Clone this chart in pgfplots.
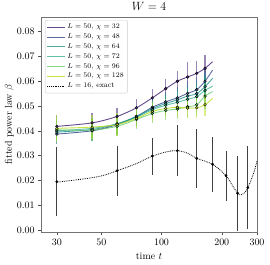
\documentclass[border=0pt]{standalone}
\usepackage{pgfplots}
\pgfplotsset{compat=1.18}
\usepackage{pgfplotstable}

\definecolor{c32}{HTML}{482878}
\definecolor{c48}{HTML}{3B528B}
\definecolor{c64}{HTML}{21918C}
\definecolor{c72}{HTML}{22A884}
\definecolor{c96}{HTML}{5EC962}
\definecolor{c128}{HTML}{BDDF26}

\pgfplotstableread{
t y e
30 0.0418 0.0045
45 0.0432 0.0040
60 0.0458 0.0035
75 0.0493 0.0035
90 0.0533 0.0035
105 0.0570 0.0040
120 0.0600 0.0042
135 0.0617 0.0060
150 0.0632 0.0050
165 0.0652 0.0055
180 0.0679 0
}\chiA
\pgfplotstableread{
t y e
30 0.0387 0.0040
45 0.0400 0.0040
60 0.0425 0.0040
75 0.0458 0.0035
90 0.0495 0.0035
105 0.0517 0.0040
120 0.0533 0.0045
135 0.0551 0.0050
150 0.0566 0.0050
165 0.0600 0.0050
180 0.0645 0
}\chiB
\pgfplotstableread{
t y e
30 0.0395 0.0045
45 0.0405 0.0040
60 0.0428 0.0040
75 0.0458 0.0035
90 0.0490 0.0035
105 0.0510 0.0040
120 0.0525 0.0045
135 0.0540 0.0045
150 0.0550 0.0045
165 0.0578 0.0050
180 0.0612 0
}\chiC
\pgfplotstableread{
t y e
30 0.0400 0.0045
45 0.0410 0.0040
60 0.0428 0.0040
75 0.0455 0.0035
90 0.0485 0.0035
105 0.0503 0.0040
120 0.0515 0.0040
135 0.0527 0.0045
150 0.0538 0.0045
165 0.0563 0.0050
180 0.0580 0
}\chiD
\pgfplotstableread{
t y e
30 0.0404 0.0050
45 0.0403 0.0045
60 0.0418 0.0040
75 0.0446 0.0040
90 0.0470 0.0040
105 0.0482 0.0040
120 0.0488 0.0040
135 0.0497 0.0045
150 0.0505 0.0045
165 0.0540 0.0050
180 0.0558 0
}\chiE
\pgfplotstableread{
t y e
30 0.0410 0.0054
45 0.0415 0.0050
60 0.0425 0.0045
75 0.0450 0.0040
90 0.0478 0.0040
105 0.0490 0.0040
120 0.0495 0.0040
135 0.0492 0.0040
150 0.0493 0.0040
165 0.0505 0.0045
180 0.0531 0
}\chiF
\pgfplotstableread{
t y e
30 0.0195 0.0138
60 0.0239 0.0100
90 0.0298 0.0075
120 0.0320 0.0102
150 0.0289 0.0120
180 0.0265 0.0110
210 0.0219 0.0100
240 0.0148 0.0152
270 0.0171 0.0166
}\exact
\pgfplotstableread{
t y
30 0.0193
40 0.0205
50 0.0218
60 0.0239
75 0.0268
90 0.0298
107 0.0316
120 0.0320
135 0.0310
150 0.0289
180 0.0265
210 0.0219
230 0.0170
245 0.0142
260 0.0150
275 0.0185
290 0.0235
300 0.0278
}\exactcurve

\pgfplotsset{
  mk/.style={forget plot, only marks, mark=*, mark size=1.4pt,
    mark options={draw=black, fill=#1, line width=0.4pt},
    skip coords between index={10}{11},
    error bars/.cd, y dir=both, y explicit, error mark=none,
    error bar style={#1, line width=1.3pt, opacity=0.55}},
}

\begin{document}
\begin{tikzpicture}
\begin{axis}[
  scale only axis,
  width=216bp, height=215bp,
  xmode=log,
  xmin=25, xmax=300,
  ymin=-0.0008, ymax=0.0859,
  xtick={30,50,100,200,300},
  xticklabels={30,50,100,200,300},
  xminorticks=false,
  ytick={0,0.01,0.02,0.03,0.04,0.05,0.06,0.07,0.08},
  scaled y ticks=false,
  yticklabel style={/pgf/number format/.cd, fixed, fixed zerofill, precision=2},
  tick align=outside,
  xtick pos=bottom, ytick pos=left,
  major tick length=3pt,
  axis line style={black!55},
  every tick/.style={black!70},
  title={$W=4$},
  title style={font=\large, yshift=-3pt},
  xlabel={time $t$},
  ylabel={fitted power law $\beta$},
  xlabel style={yshift=-1pt},
  ylabel style={yshift=-4pt},
  legend cell align=left,
  legend style={at={(0.018,0.986)}, anchor=north west,
    font=\fontsize{7.5}{8.5}\selectfont, draw=black!20, rounded corners=2pt,
    inner sep=1.8pt, row sep=-0.4pt},
  legend image code/.code={\draw[#1] (0cm,0cm) -- (0.62cm,0cm);},
]
\addplot[c32, line width=0.9pt, opacity=0.85, smooth] table[x=t,y=y]{\chiA};
\addlegendentry{$L=50$, $\chi=32$}
\addplot[c48, line width=0.9pt, opacity=0.85, smooth] table[x=t,y=y]{\chiB};
\addlegendentry{$L=50$, $\chi=48$}
\addplot[c64, line width=0.9pt, opacity=0.8, smooth] table[x=t,y=y]{\chiC};
\addlegendentry{$L=50$, $\chi=64$}
\addplot[c72, line width=0.9pt, opacity=0.7, smooth] table[x=t,y=y]{\chiD};
\addlegendentry{$L=50$, $\chi=72$}
\addplot[c96, line width=0.9pt, opacity=0.75, smooth] table[x=t,y=y]{\chiE};
\addlegendentry{$L=50$, $\chi=96$}
\addplot[c128, line width=0.9pt, opacity=0.85, smooth] table[x=t,y=y]{\chiF};
\addlegendentry{$L=50$, $\chi=128$}
\addplot[black, densely dotted, line width=0.8pt, smooth] table[x=t,y=y]{\exactcurve};
\addlegendentry{$L=16$, exact}

\addplot[mk=c32] table[x=t, y=y, y error=e]{\chiA};
\addplot[mk=c48] table[x=t, y=y, y error=e]{\chiB};
\addplot[mk=c64] table[x=t, y=y, y error=e]{\chiC};
\addplot[mk=c72] table[x=t, y=y, y error=e]{\chiD};
\addplot[mk=c96] table[x=t, y=y, y error=e]{\chiE};
\addplot[mk=c128] table[x=t, y=y, y error=e]{\chiF};
\addplot[forget plot, only marks, mark=*, mark size=1.2pt, black,
  error bars/.cd, y dir=both, y explicit, error mark=none,
  error bar style={black, line width=1pt, opacity=0.75}]
  table[x=t, y=y, y error=e]{\exact};
\end{axis}
\pgfresetboundingbox
\path ([shift={(-41bp,-33bp)}]current axis.south west) rectangle ([shift={(13bp,17bp)}]current axis.north east);
\end{tikzpicture}
\end{document}
